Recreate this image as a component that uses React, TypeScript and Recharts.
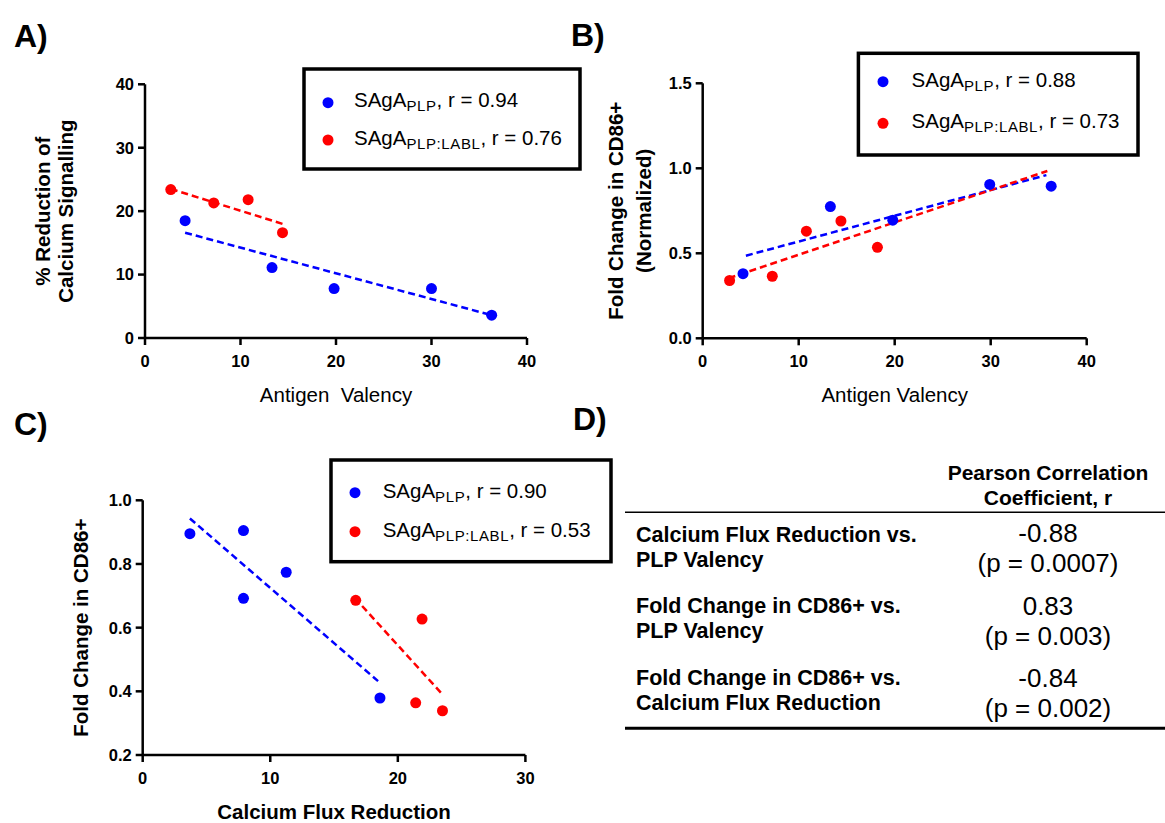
import React from 'react';
import { ScatterChart, Scatter, XAxis, YAxis, ReferenceLine } from 'recharts';

const BLUE = '#0000FF';
const RED = '#FF0000';
const FONT = '"Liberation Sans", Arial, Helvetica, sans-serif';

// ---------- Panel A: % reduction of calcium signalling vs antigen valency
const aPlpValency = [4.2, 13.3, 19.8, 30.0, 36.3];
const aPlpReduction = [18.5, 11.1, 7.8, 7.8, 3.6];
const aLablValency = [2.7, 7.2, 10.8, 14.4];
const aLablReduction = [23.4, 21.3, 21.8, 16.6];
const aPlpFitX = [4.2, 36.3];
const aPlpFitY = [16.6, 3.6];
const aLablFitX = [2.7, 14.4];
const aLablFitY = [23.5, 18.0];
const aXTicks = [0, 10, 20, 30, 40];
const aYTicks = [0, 10, 20, 30, 40];
const aR = ['0.94', '0.76'];

// ---------- Panel B: fold change in CD86+ (normalized) vs antigen valency
const bPlpValency = [4.2, 13.3, 19.8, 29.9, 36.3];
const bPlpFold = [0.38, 0.775, 0.695, 0.905, 0.895];
const bLablValency = [2.8, 7.25, 10.8, 14.4, 18.2];
const bLablFold = [0.34, 0.365, 0.63, 0.69, 0.535];
const bPlpFitX = [4.5, 35.8];
const bPlpFitY = [0.486, 0.96];
const bLablFitX = [2.7, 35.9];
const bLablFitY = [0.353, 0.984];
const bXTicks = [0, 10, 20, 30, 40];
const bYTicks = [0, 0.5, 1.0, 1.5];
const bR = ['0.88', '0.73'];

// ---------- Panel C: fold change in CD86+ vs calcium flux reduction
const cPlpFlux = [3.7, 7.9, 7.9, 11.25, 18.6];
const cPlpFold = [0.895, 0.905, 0.692, 0.774, 0.379];
const cLablFlux = [16.7, 21.9, 21.4, 23.5];
const cLablFold = [0.686, 0.627, 0.364, 0.339];
const cPlpFitX = [3.7, 18.45];
const cPlpFitY = [0.943, 0.432];
const cLablFitX = [17.2, 23.55];
const cLablFitY = [0.668, 0.388];
const cXTicks = [0, 10, 20, 30];
const cYTicks = [0.2, 0.4, 0.6, 0.8, 1.0];
const cR = ['0.90', '0.53'];

// ---------- Panel D: table
const tableRowLine1 = ['Calcium Flux Reduction vs.', 'Fold Change in CD86+ vs.', 'Fold Change in CD86+ vs.'];
const tableRowLine2 = ['PLP Valency', 'PLP Valency', 'Calcium Flux Reduction'];
const tableR = ['-0.88', '0.83', '-0.84'];
const tableP = ['0.0007', '0.003', '0.002'];

const seriesNames = ['PLP', 'PLP:LABL'];
const seriesColors = [BLUE, RED];

type Pt = { x: number; y: number };
const zip = (xs: number[], ys: number[]): Pt[] => xs.map((x, i) => ({ x, y: ys[i] }));

const dotShape = (color: string) => (props: any) => (
  <circle cx={props.cx} cy={props.cy} r={5.5} fill={color} />
);

type PanelProps = {
  left: number;
  top: number;
  width: number;
  height: number;
  margin: { top: number; right: number; bottom: number; left: number };
  xDomain: [number, number];
  yDomain: [number, number];
  xTicks: number[];
  yTicks: number[];
  yDecimals: number;
  plp: Pt[];
  labl: Pt[];
  plpFit: Pt[];
  lablFit: Pt[];
  xLabel: string;
  xLabelBold: boolean;
  yLabelLines: string[];
  yLabelOffsets: number[];
};

const axisStroke = { stroke: '#000', strokeWidth: 2.5 };
const tickStyle = { fill: '#000', fontSize: 16.5, fontWeight: 'bold', fontFamily: FONT };

function Panel(p: PanelProps) {
  const xLabelFn = (props: any) => {
    const vb = props.viewBox || {};
    return (
      <text
        x={vb.x + vb.width / 2}
        y={vb.y + 64}
        textAnchor="middle"
        fontSize={20.5}
        fontWeight={p.xLabelBold ? 'bold' : 'normal'}
        fontFamily={FONT}
        fill="#000"
        style={{ whiteSpace: 'pre' }}
      >
        {p.xLabel}
      </text>
    );
  };
  const yLabelFn = (props: any) => {
    const vb = props.viewBox || {};
    const axisX = vb.x + vb.width;
    const cy = vb.y + vb.height / 2;
    return (
      <g>
        {p.yLabelLines.map((t, i) => {
          const x = axisX + p.yLabelOffsets[i];
          return (
            <text
              key={i}
              x={x}
              y={cy}
              transform={`rotate(-90 ${x} ${cy})`}
              textAnchor="middle"
              fontSize={20.5}
              fontWeight="bold"
              fontFamily={FONT}
              fill="#000"
            >
              {t}
            </text>
          );
        })}
      </g>
    );
  };
  return (
    <div style={{ position: 'absolute', left: p.left, top: p.top, width: p.width, height: p.height }}>
      <ScatterChart width={p.width} height={p.height} margin={p.margin}>
        <XAxis
          type="number"
          dataKey="x"
          domain={p.xDomain}
          ticks={p.xTicks}
          interval={0}
          allowDataOverflow
          height={60}
          axisLine={axisStroke}
          tickLine={axisStroke}
          tickSize={7}
          tickMargin={10}
          tick={tickStyle}
          fontSize={16.5}
          label={xLabelFn}
        />
        <YAxis
          type="number"
          dataKey="y"
          domain={p.yDomain}
          ticks={p.yTicks}
          interval={0}
          allowDataOverflow
          width={60}
          axisLine={axisStroke}
          tickLine={axisStroke}
          tickSize={7}
          tickMargin={4}
          tick={tickStyle}
          fontSize={16.5}
          tickFormatter={(v: number) => v.toFixed(p.yDecimals)}
          label={yLabelFn}
        />
        <ReferenceLine
          segment={[p.plpFit[0], p.plpFit[1]]}
          stroke={BLUE}
          strokeWidth={2.5}
          strokeDasharray="7 4"
        />
        <ReferenceLine
          segment={[p.lablFit[0], p.lablFit[1]]}
          stroke={RED}
          strokeWidth={2.5}
          strokeDasharray="7 4"
        />
        <Scatter data={p.plp} fill={BLUE} shape={dotShape(BLUE)} isAnimationActive={false} />
        <Scatter data={p.labl} fill={RED} shape={dotShape(RED)} isAnimationActive={false} />
      </ScatterChart>
    </div>
  );
}

function LegendBox({ x, y, w, h, dotX, textX, rows, rValues }: any) {
  return (
    <g>
      <rect x={x} y={y} width={w} height={h} fill="#fff" stroke="#000" strokeWidth={3.5} />
      {seriesNames.map((name, i) => (
        <g key={name}>
          <circle cx={dotX} cy={rows[i].dot} r={5.5} fill={seriesColors[i]} />
          <text x={textX} y={rows[i].base} fontSize={20.5} fontFamily={FONT} fill="#000">
            <tspan>SAgA</tspan>
            <tspan fontSize={15} dy={4} letterSpacing={0.6}>{name}</tspan>
            <tspan dy={-4}>{`, r = ${rValues[i]}`}</tspan>
          </text>
        </g>
      ))}
    </g>
  );
}

export default function App() {
  const letterStyle = { fontSize: 32, fontWeight: 'bold' as const, fontFamily: FONT, fill: '#000' };
  return (
    <div style={{ position: 'absolute', left: 0, top: 0, width: 1165, height: 823, background: '#fff', overflow: 'hidden' }}>
      <Panel
        left={0}
        top={0}
        width={560}
        height={420}
        margin={{ top: 84.3, right: 33, bottom: 22, left: 85 }}
        xDomain={[0, 40]}
        yDomain={[0, 40]}
        xTicks={aXTicks}
        yTicks={aYTicks}
        yDecimals={0}
        plp={zip(aPlpValency, aPlpReduction)}
        labl={zip(aLablValency, aLablReduction)}
        plpFit={zip(aPlpFitX, aPlpFitY)}
        lablFit={zip(aLablFitX, aLablFitY)}
        xLabel={'Antigen  Valency'}
        xLabelBold={false}
        yLabelLines={['% Reduction of', 'Calcium Signalling']}
        yLabelOffsets={[-95, -71.5]}
      />
      <Panel
        left={570}
        top={0}
        width={595}
        height={420}
        margin={{ top: 83.3, right: 78.3, bottom: 21.7, left: 72.7 }}
        xDomain={[0, 40]}
        yDomain={[0, 1.5]}
        xTicks={bXTicks}
        yTicks={bYTicks}
        yDecimals={1}
        plp={zip(bPlpValency, bPlpFold)}
        labl={zip(bLablValency, bLablFold)}
        plpFit={zip(bPlpFitX, bPlpFitY)}
        lablFit={zip(bLablFitX, bLablFitY)}
        xLabel={'Antigen Valency'}
        xLabelBold={false}
        yLabelLines={['Fold Change in CD86+', '(Normalized)']}
        yLabelOffsets={[-80, -52]}
      />
      <Panel
        left={0}
        top={420}
        width={600}
        height={403}
        margin={{ top: 80.3, right: 74.6, bottom: 8, left: 82.7 }}
        xDomain={[0, 30]}
        yDomain={[0.2, 1.0]}
        xTicks={cXTicks}
        yTicks={cYTicks}
        yDecimals={1}
        plp={zip(cPlpFlux, cPlpFold)}
        labl={zip(cLablFlux, cLablFold)}
        plpFit={zip(cPlpFitX, cPlpFitY)}
        lablFit={zip(cLablFitX, cLablFitY)}
        xLabel={'Calcium Flux Reduction'}
        xLabelBold={true}
        yLabelLines={['Fold Change in CD86+']}
        yLabelOffsets={[-55]}
      />
      <svg
        width={1165}
        height={823}
        style={{ position: 'absolute', left: 0, top: 0, pointerEvents: 'none' }}
      >
        <text x={14} y={47} {...letterStyle}>A)</text>
        <text x={571} y={46} {...letterStyle}>B)</text>
        <text x={14} y={435} {...letterStyle}>C)</text>
        <text x={573} y={430} {...letterStyle}>D)</text>

        <LegendBox x={304} y={69} w={276} h={100} dotX={328} textX={354}
          rows={[{ dot: 102.7, base: 107 }, { dot: 140, base: 145 }]} rValues={aR} />
        <LegendBox x={858.4} y={53.3} w={279.6} h={101.7} dotX={883} textX={911.6}
          rows={[{ dot: 81.7, base: 87.3 }, { dot: 123.3, base: 128.3 }]} rValues={bR} />
        <LegendBox x={331} y={460} w={280} h={101.7} dotX={355} textX={382.7}
          rows={[{ dot: 492.7, base: 498 }, { dot: 531.7, base: 536.7 }]} rValues={cR} />

        {/* Table D */}
        <text x={1048} y={480} textAnchor="middle" fontSize={21} fontWeight="bold" fontFamily={FONT}>Pearson Correlation</text>
        <text x={1048} y={505} textAnchor="middle" fontSize={21} fontWeight="bold" fontFamily={FONT}>Coefficient, r</text>
        <line x1={625} x2={1165} y1={512.3} y2={512.3} stroke="#000" strokeWidth={1.6} />
        {tableRowLine1.map((t, i) => {
          const l1 = [541.7, 613.3, 685][i];
          const v1 = [541.7, 615, 686.7][i];
          return (
            <g key={i}>
              <text x={636} y={l1} fontSize={21.5} fontWeight="bold" fontFamily={FONT}>{t}</text>
              <text x={636} y={l1 + 25} fontSize={21.5} fontWeight="bold" fontFamily={FONT}>{tableRowLine2[i]}</text>
              <text x={1048} y={v1} textAnchor="middle" fontSize={26} fontFamily={FONT}>{tableR[i]}</text>
              <text x={1048} y={v1 + 30} textAnchor="middle" fontSize={26} fontFamily={FONT}>{`(p = ${tableP[i]})`}</text>
            </g>
          );
        })}
        <line x1={625} x2={1165} y1={728.3} y2={728.3} stroke="#000" strokeWidth={3} />
      </svg>
    </div>
  );
}
